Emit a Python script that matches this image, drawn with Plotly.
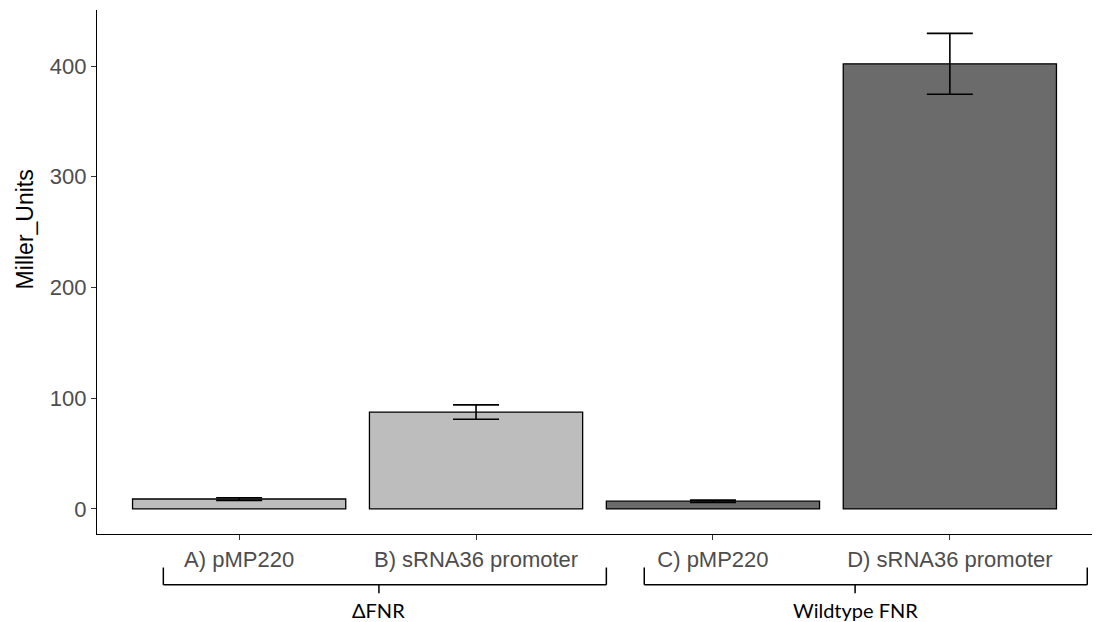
import plotly.graph_objects as go

# Beta-galactosidase activity per construct
categories = ["A) pMP220", "B) sRNA36 promoter", "C) pMP220", "D) sRNA36 promoter"]
miller_units = [9, 87.5, 7, 402]
error = [1.2, 6.5, 1.0, 27.5]
bar_colors = ["#bdbdbd", "#bdbdbd", "#6b6b6b", "#6b6b6b"]

# Strain groupings drawn as brackets beneath the axis: (label, left, right, centre)
groups = [
    ("\u0394FNR", -0.32, 1.55, 0.59),
    ("Wildtype FNR", 1.71, 3.58, 2.60),
]

fig = go.Figure()
fig.add_trace(go.Bar(
    x=list(range(len(categories))),
    y=miller_units,
    width=0.9,
    marker=dict(color=bar_colors, line=dict(color="black", width=1.3)),
    error_y=dict(type="data", array=error, visible=True,
                 color="black", thickness=1.6, width=23),
    showlegend=False,
))

shapes = []
annotations = []
y_line, y_end, y_tick, y_text = -0.097, -0.064, -0.113, -0.119
for label, x0, x1, xc in groups:
    line = dict(color="black", width=1.5)
    shapes.append(dict(type="line", xref="x", yref="paper", x0=x0, x1=x1, y0=y_line, y1=y_line, line=line))
    shapes.append(dict(type="line", xref="x", yref="paper", x0=x0, x1=x0, y0=y_line, y1=y_end, line=line))
    shapes.append(dict(type="line", xref="x", yref="paper", x0=x1, x1=x1, y0=y_line, y1=y_end, line=line))
    shapes.append(dict(type="line", xref="x", yref="paper", x0=xc, x1=xc, y0=y_line, y1=y_tick, line=line))
    annotations.append(dict(text=label, xref="x", yref="paper", x=xc, y=y_text,
                            xanchor="center", yanchor="top", showarrow=False,
                            font=dict(family="Lato", size=20, color="black")))

# y-axis title
annotations.append(dict(text="Miller_Units", xref="paper", yref="paper", x=-0.072, y=0.582,
                        xanchor="center", yanchor="middle", textangle=-90, showarrow=False,
                        font=dict(family="Arial, Liberation Sans, sans-serif", size=23, color="black")))

tick_font = dict(family="Arial, Liberation Sans, sans-serif", size=22, color="#4d4d4d")

fig.update_layout(
    width=1097, height=622,
    margin=dict(l=97, r=5, t=10, b=88),
    paper_bgcolor="white", plot_bgcolor="white",
    shapes=shapes, annotations=annotations,
    xaxis=dict(
        tickmode="array", tickvals=list(range(len(categories))), ticktext=categories,
        range=[-0.6, 3.6], showgrid=False, zeroline=False,
        showline=True, linecolor="black", linewidth=1.3,
        ticks="outside", ticklen=5, tickcolor="#333333", tickwidth=1.2,
        tickfont=tick_font,
    ),
    yaxis=dict(
        range=[-22.6, 450.6], tickvals=[0, 100, 200, 300, 400],
        showgrid=False, zeroline=False,
        showline=True, linecolor="black", linewidth=1.3,
        ticks="outside", ticklen=5, tickcolor="#333333", tickwidth=1.2,
        tickfont=tick_font,
    ),
)

fig.write_html("out.html")
